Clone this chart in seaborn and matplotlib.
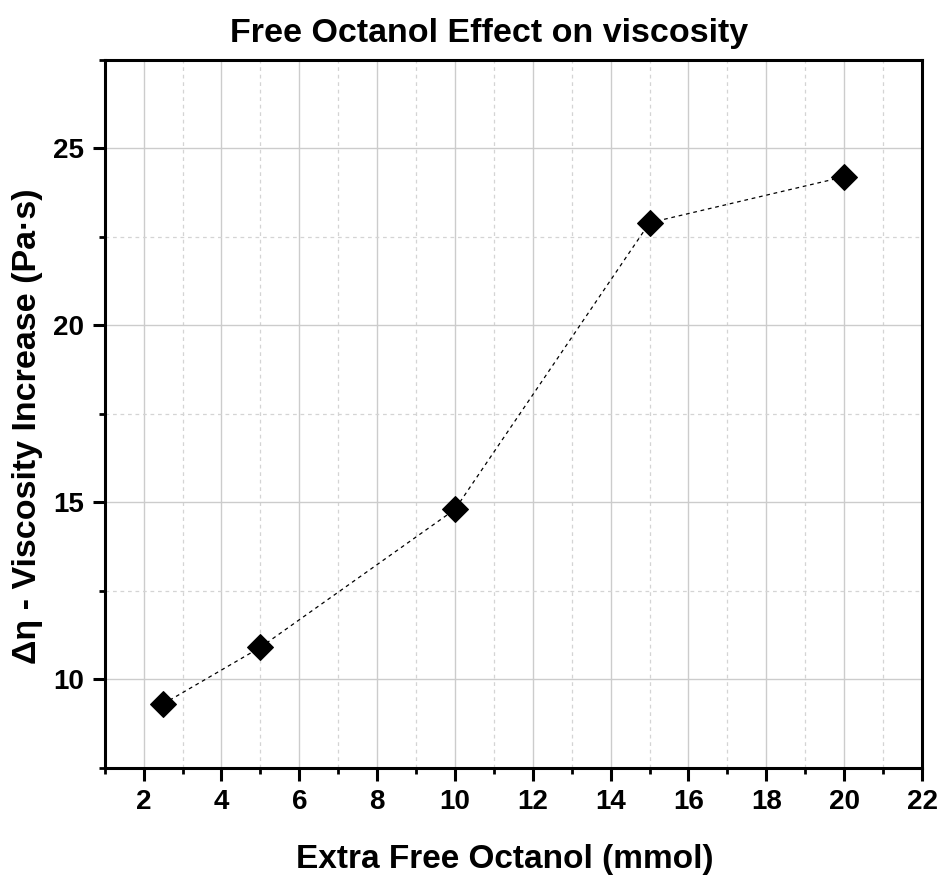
import matplotlib
matplotlib.use("Agg")
import matplotlib.pyplot as plt
from matplotlib.ticker import MultipleLocator
import seaborn as sns
import pandas as pd

# Measured viscosity increase vs. added free octanol
octanol_mmol = [2.5, 5, 10, 15, 20]
viscosity_increase = [9.3, 10.9, 14.8, 22.9, 24.2]

title = "Free Octanol Effect on viscosity"
x_label = "Extra Free Octanol (mmol)"
y_label = "Δη - Viscosity Increase (Pa·s)"

df = pd.DataFrame({"x": octanol_mmol, "y": viscosity_increase})

sns.set_style("white")
plt.rcParams["font.family"] = ["Liberation Sans", "DejaVu Sans"]
plt.rcParams["font.weight"] = "bold"
plt.rcParams["text.color"] = "black"
plt.rcParams["axes.labelcolor"] = "black"
plt.rcParams["xtick.color"] = "black"
plt.rcParams["ytick.color"] = "black"

fig = plt.figure(figsize=(9.42, 8.81), dpi=100)
ax = fig.add_axes([0.1111, 0.1286, 0.8677, 0.8033])

sns.lineplot(data=df, x="x", y="y", ax=ax, color="black", linewidth=0.9,
             linestyle=(0, (3, 3)), marker="D", markersize=13,
             markerfacecolor="black", markeredgecolor="black", zorder=5)

ax.set_xlim(1, 22)
ax.set_ylim(7.5, 27.5)
ax.xaxis.set_major_locator(MultipleLocator(2))
ax.xaxis.set_minor_locator(MultipleLocator(1))
ax.yaxis.set_major_locator(MultipleLocator(5))
ax.yaxis.set_minor_locator(MultipleLocator(2.5))

ax.grid(which="major", color="#cccccc", linewidth=1.0, linestyle="-")
ax.grid(which="minor", color="#d4d4d4", linewidth=0.9, linestyle=(0, (3, 3)))
ax.set_axisbelow(True)

for s in ax.spines.values():
    s.set_color("black")
    s.set_linewidth(2.2)

ax.tick_params(axis="both", which="major", direction="out", length=9, width=2.2,
               labelsize=20, color="black", labelcolor="black", pad=6)
ax.tick_params(axis="both", which="minor", direction="out", length=4.5, width=2.0,
               color="black")
ax.tick_params(top=False, right=False, bottom=True, left=True)
ax.tick_params(which="minor", top=False, right=False, bottom=True, left=True)
for lab in ax.get_xticklabels() + ax.get_yticklabels():
    lab.set_fontweight("bold")

fig.text(0.519, 0.952, title, fontsize=24.5, fontweight="bold", color="black",
         ha="center", va="baseline")
ax.set_xlabel(x_label, fontsize=24, fontweight="bold", color="black")
ax.xaxis.set_label_coords(0.49, -0.108)
ax.set_ylabel(y_label, fontsize=24.5, fontweight="bold", color="black")
ax.yaxis.set_label_coords(-0.076, 0.483)

fig.savefig("out.png", dpi=100)
